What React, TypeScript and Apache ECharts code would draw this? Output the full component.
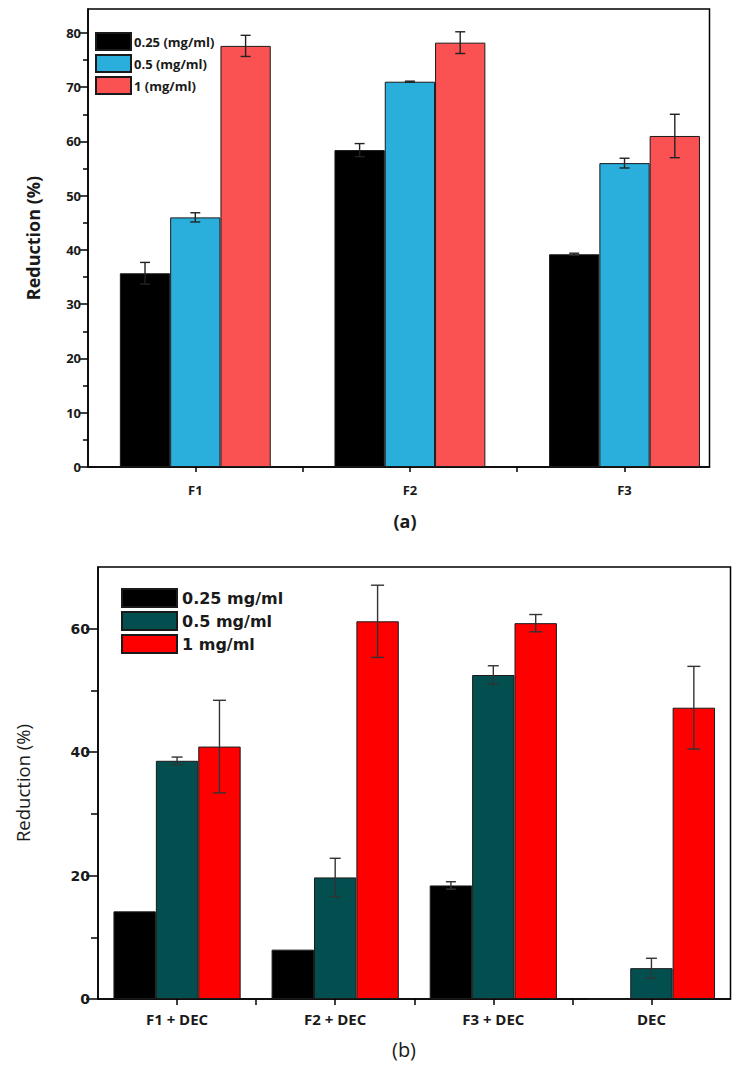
import React, { useEffect, useRef } from "react";
import * as echarts from "echarts";

// ---------- Panel (a) ----------
const catsA = ["F1", "F2", "F3"];
const posA = [1, 2, 3];
const namesA = ["0.25 (mg/ml)", "0.5 (mg/ml)", "1 (mg/ml)"];
const a025 = [35.7, 58.4, 39.2];
const a025Err = [2.0, 1.2, 0.2];
const a05 = [46.0, 71.0, 56.0];
const a05Err = [0.85, 0.1, 0.9];
const a1 = [77.6, 78.2, 61.0];
const a1Err = [1.95, 2.0, 4.0];
const yTicksA = [0, 10, 20, 30, 40, 50, 60, 70, 80];
const yMinorA = [5, 15, 25, 35, 45, 55, 65, 75];
const xTicksA = [1, 1.5, 2, 2.5, 3];

// ---------- Panel (b) ----------
const catsB = ["F1 + DEC", "F2 + DEC", "F3 + DEC", "DEC"];
const posB = [1, 2, 3, 4];
const namesB = ["0.25 mg/ml", "0.5 mg/ml", "1 mg/ml"];
const b025 = [14.2, 8.0, 18.4, 0];
const b025Err = [0, 0, 0.6, 0];
const b05 = [38.6, 19.7, 52.5, 5.0];
const b05Err = [0.6, 3.1, 1.5, 1.6];
const b1 = [40.9, 61.2, 60.9, 47.2];
const b1Err = [7.5, 5.85, 1.4, 6.7];
const yTicksB = [0, 20, 40, 60];
const yMinorB = [10, 30, 50];
const xTicksB = [1, 1.5, 2, 2.5, 3, 3.5, 4];

const colorsA = ["#000000", "#2AAFDC", "#FA5252"];
const colorsB = ["#000000", "#034F4F", "#FF0000"];

function barSeries(name: string, pos: number[], vals: number[], gi: number, color: string, width: number) {
  return {
    type: "bar",
    name,
    xAxisIndex: gi,
    yAxisIndex: gi * 2,
    barWidth: width,
    barGap: "0%",
    data: vals.map((v, i) => [pos[i], v]),
    itemStyle: { color, borderColor: "#1a1a1a", borderWidth: 1 },
    z: 2,
  };
}

function errSeries(pos: number[], vals: number[], errs: number[], gi: number, offset: number, cap: number, color: string) {
  return {
    type: "custom",
    xAxisIndex: gi,
    yAxisIndex: gi * 2,
    z: 5,
    encode: { x: 0, y: 1 },
    data: vals.map((v, i) => [pos[i], v, errs[i]]),
    renderItem: (params: any, api: any) => {
      const x = api.value(0);
      const y = api.value(1);
      const e = api.value(2);
      if (!e) return { type: "group", children: [] };
      const hi = api.coord([x, y + e]);
      const lo = api.coord([x, y - e]);
      const cx = hi[0] + offset;
      const style = { stroke: color, lineWidth: 1.4 };
      return {
        type: "group",
        children: [
          { type: "line", shape: { x1: cx, y1: hi[1], x2: cx, y2: lo[1] }, style },
          { type: "line", shape: { x1: cx - cap, y1: hi[1], x2: cx + cap, y2: hi[1] }, style },
          { type: "line", shape: { x1: cx - cap, y1: lo[1], x2: cx + cap, y2: lo[1] }, style },
        ],
      };
    },
  };
}

export default function App() {
  const ref = useRef<HTMLDivElement>(null);
  useEffect(() => {
    if (!ref.current) return;
    const chart = echarts.init(ref.current, null, { renderer: "svg" });
    const fA = "Open Sans";
    const fB = "DejaVu Sans";
    const txt = "#1a1a1a";
    const bwA = 50.3;
    const bwB = 42.4;

    const option: any = {
      animation: false,
      backgroundColor: "#ffffff",
      grid: [
        { left: 88, top: 9, width: 621.5, height: 458, show: true, borderColor: "#000", borderWidth: 1.5, backgroundColor: "transparent" },
        { left: 98, top: 567, width: 632.5, height: 432, show: true, borderColor: "#000", borderWidth: 1.5, backgroundColor: "transparent" },
      ],
      legend: [
        {
          orient: "vertical",
          left: 90,
          top: 27,
          itemWidth: 35,
          itemHeight: 17,
          itemGap: 3,
          icon: "rect",
          data: namesA,
          textStyle: { fontFamily: fA, fontWeight: "bold", fontSize: 13, color: txt, padding: [0, 0, 0, -2] },
        },
        {
          orient: "vertical",
          left: 116,
          top: 583,
          itemWidth: 55,
          itemHeight: 18,
          itemGap: 3,
          icon: "rect",
          data: namesB,
          textStyle: { fontFamily: fB, fontWeight: "bold", fontSize: 16, color: txt },
        },
      ],
      xAxis: [
        {
          type: "value",
          gridIndex: 0,
          min: 0.5,
          max: 3.396,
          interval: 0.5,
          splitLine: { show: false },
          axisLine: { show: true, lineStyle: { color: "#000", width: 1.5 } },
          axisTick: { show: true, customValues: xTicksA, length: 5, lineStyle: { color: "#000", width: 1.5 } },
          axisLabel: {
            customValues: posA,
            formatter: (v: number) => catsA[Math.round(v) - 1] ?? "",
            fontFamily: fA,
            fontWeight: "bold",
            fontSize: 13,
            color: txt,
            margin: 16,
          },
        },
        {
          type: "value",
          gridIndex: 1,
          min: 0.5,
          max: 4.5,
          interval: 0.5,
          splitLine: { show: false },
          axisLine: { show: true, lineStyle: { color: "#000", width: 1.5 } },
          axisTick: { show: true, customValues: xTicksB, length: 6, lineStyle: { color: "#000", width: 1.5 } },
          axisLabel: {
            customValues: posB,
            formatter: (v: number) => catsB[Math.round(v) - 1] ?? "",
            fontFamily: fA,
            fontWeight: "bold",
            fontSize: 15,
            color: txt,
            margin: 12,
          },
        },
      ],
      yAxis: [
        {
          type: "value",
          gridIndex: 0,
          min: 0,
          max: 84.4,
          interval: 10,
          position: "left",
          name: "Reduction (%)",
          nameLocation: "middle",
          nameGap: 46,
          nameTextStyle: { fontFamily: fA, fontWeight: "bold", fontSize: 18, color: txt },
          splitLine: { show: false },
          axisLine: { show: true, lineStyle: { color: "#000", width: 1.5 } },
          axisTick: { show: true, customValues: yTicksA, length: 9, lineStyle: { color: "#000", width: 1.5 } },
          axisLabel: { customValues: yTicksA, fontFamily: fA, fontWeight: "bold", fontSize: 13, color: txt, margin: 7 },
        },
        {
          type: "value",
          gridIndex: 0,
          min: 0,
          max: 84.4,
          interval: 10,
          position: "left",
          splitLine: { show: false },
          axisLine: { show: false },
          axisTick: { show: true, customValues: yMinorA, length: 5, lineStyle: { color: "#000", width: 1.5 } },
          axisLabel: { show: false },
        },
        {
          type: "value",
          gridIndex: 1,
          min: 0,
          max: 70,
          interval: 20,
          position: "left",
          name: "Reduction (%)",
          nameLocation: "middle",
          nameGap: 66,
          nameTextStyle: { fontFamily: fA, fontWeight: "normal", fontSize: 18.5, color: txt },
          splitLine: { show: false },
          axisLine: { show: true, lineStyle: { color: "#000", width: 1.5 } },
          axisTick: { show: true, customValues: yTicksB, length: 12, lineStyle: { color: "#000", width: 1.5 } },
          axisLabel: { customValues: yTicksB, fontFamily: fB, fontWeight: "bold", fontSize: 14, color: txt, margin: 8 },
        },
        {
          type: "value",
          gridIndex: 1,
          min: 0,
          max: 70,
          interval: 10,
          position: "left",
          splitLine: { show: false },
          axisLine: { show: false },
          axisTick: { show: true, customValues: yMinorB, length: 7, lineStyle: { color: "#000", width: 1.5 } },
          axisLabel: { show: false },
        },
      ],
      series: [
        barSeries(namesA[0], posA, a025, 0, colorsA[0], bwA),
        barSeries(namesA[1], posA, a05, 0, colorsA[1], bwA),
        barSeries(namesA[2], posA, a1, 0, colorsA[2], bwA),
        errSeries(posA, a025, a025Err, 0, -bwA, 5, "#222"),
        errSeries(posA, a05, a05Err, 0, 0, 5, "#222"),
        errSeries(posA, a1, a1Err, 0, bwA, 5, "#222"),
        barSeries(namesB[0], posB, b025, 1, colorsB[0], bwB),
        barSeries(namesB[1], posB, b05, 1, colorsB[1], bwB),
        barSeries(namesB[2], posB, b1, 1, colorsB[2], bwB),
        errSeries(posB, b025, b025Err, 1, -bwB, 5, "#333"),
        errSeries(posB, b05, b05Err, 1, 0, 5.5, "#333"),
        errSeries(posB, b1, b1Err, 1, bwB, 6.5, "#333"),
      ],
      graphic: [
        {
          type: "text",
          x: 405,
          y: 521,
          style: { text: "(a)", align: "center", verticalAlign: "middle", fontFamily: fA, fontWeight: "bold", fontSize: 18, fill: txt },
        },
        {
          type: "text",
          x: 404,
          y: 1049,
          style: { text: "(b)", align: "center", verticalAlign: "middle", fontFamily: fA, fontWeight: "normal", fontSize: 20, fill: txt },
        },
      ],
    };
    chart.setOption(option);
    return () => chart.dispose();
  }, []);
  return (
    <div
      ref={ref}
      style={{ position: "fixed", left: 0, top: 0, width: 750, height: 1067, background: "#fff" }}
    />
  );
}
